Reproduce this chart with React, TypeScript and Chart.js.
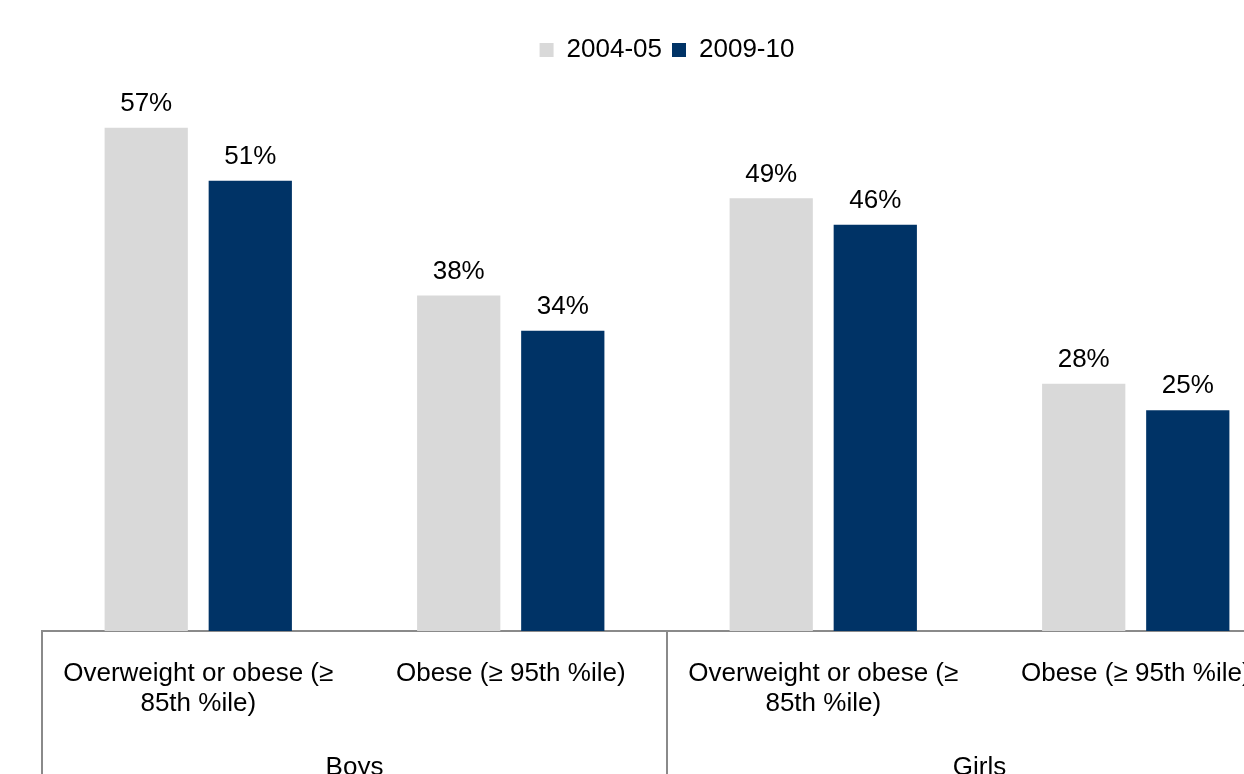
import React, { useEffect, useRef } from "react";
import { Chart, registerables } from "chart.js";

Chart.register(...registerables);

// Categories (first level) and their groups (second level)
const categories: string[][] = [
  ["Overweight or obese (≥", "85th %ile)"],
  ["Obese (≥ 95th %ile)"],
  ["Overweight or obese (≥", "85th %ile)"],
  ["Obese (≥ 95th %ile)"],
];
const groups: string[] = ["Boys", "Girls"];
const categoriesPerGroup = 2;

// Series
const seriesNames: string[] = ["2004-05", "2009-10"];
const values2004: number[] = [57, 38, 49, 28];
const values2009: number[] = [51, 34, 46, 25];

const FONT = "'Liberation Sans', Arial, Helvetica, sans-serif";
const LIGHT = "#D9D9D9";
const NAVY = "#003366";
const RULE = "#8A8A8A";

const CANVAS_W = 1344;
const CANVAS_H = 800;

// Percent labels above each bar
const valueLabels = {
  id: "valueLabels",
  afterDatasetsDraw(chart: Chart) {
    const { ctx } = chart;
    ctx.save();
    ctx.font = `26px ${FONT}`;
    ctx.fillStyle = "#000";
    ctx.textAlign = "center";
    ctx.textBaseline = "middle";
    chart.data.datasets.forEach((ds, di) => {
      const meta = chart.getDatasetMeta(di);
      meta.data.forEach((bar: any, i: number) => {
        const v = ds.data[i] as number;
        ctx.fillText(`${v}%`, bar.x, bar.y - 24);
      });
    });
    ctx.restore();
  },
};

// Group separators below the axis and group names
const groupAxis = {
  id: "groupAxis",
  afterDraw(chart: Chart) {
    const { ctx, chartArea } = chart;
    const x = chart.scales.x;
    const bottom = chartArea.bottom;
    const edges: number[] = [];
    for (let g = 0; g <= groups.length; g++) {
      const idx = g * categoriesPerGroup;
      if (idx === 0) edges.push(chartArea.left);
      else if (idx >= categories.length) edges.push(chartArea.right);
      else edges.push((x.getPixelForValue(idx - 1) + x.getPixelForValue(idx)) / 2);
    }
    ctx.save();
    ctx.strokeStyle = RULE;
    ctx.lineWidth = 2;
    edges.forEach((ex) => {
      ctx.beginPath();
      ctx.moveTo(ex, bottom - 1);
      ctx.lineTo(ex, chart.height);
      ctx.stroke();
    });
    ctx.font = `26px ${FONT}`;
    ctx.fillStyle = "#000";
    ctx.textAlign = "center";
    ctx.textBaseline = "middle";
    groups.forEach((name, g) => {
      ctx.fillText(name, (edges[g] + edges[g + 1]) / 2, bottom + 137);
    });
    ctx.restore();
  },
};

export default function App() {
  const canvasRef = useRef<HTMLCanvasElement | null>(null);

  useEffect(() => {
    if (!canvasRef.current) return;
    const chart = new Chart(canvasRef.current, {
      type: "bar",
      data: {
        labels: categories,
        datasets: [
          {
            label: seriesNames[0],
            data: values2004,
            backgroundColor: LIGHT,
            categoryPercentage: 0.666,
            barPercentage: 0.8,
          },
          {
            label: seriesNames[1],
            data: values2009,
            backgroundColor: NAVY,
            categoryPercentage: 0.666,
            barPercentage: 0.8,
          },
        ],
      },
      options: {
        responsive: false,
        animation: false,
        layout: { padding: { top: 27, left: 42, right: 52, bottom: 53 } },
        plugins: {
          title: { display: false },
          tooltip: { enabled: false },
          legend: {
            position: "top",
            labels: {
              boxWidth: 14,
              boxHeight: 14,
              padding: 10,
              color: "#000",
              font: { family: FONT, size: 26 },
            },
          },
        },
        scales: {
          x: {
            grid: { display: false, drawTicks: false },
            border: { display: true, color: RULE, width: 2 },
            ticks: {
              color: "#000",
              padding: 28,
              autoSkip: false,
              maxRotation: 0,
              minRotation: 0,
              font: { family: FONT, size: 26, lineHeight: 1.154 },
            },
          },
          y: {
            display: false,
            min: 0,
            max: 63.2,
          },
        },
      },
      plugins: [valueLabels, groupAxis],
    });
    return () => chart.destroy();
  }, []);

  return (
    <div
      style={{
        position: "fixed",
        left: 0,
        top: 0,
        width: 1244,
        height: 774,
        overflow: "hidden",
        background: "#fff",
      }}
    >
      <canvas
        ref={canvasRef}
        width={CANVAS_W}
        height={CANVAS_H}
        style={{ position: "absolute", left: 0, top: 0, width: CANVAS_W, height: CANVAS_H }}
      />
    </div>
  );
}
